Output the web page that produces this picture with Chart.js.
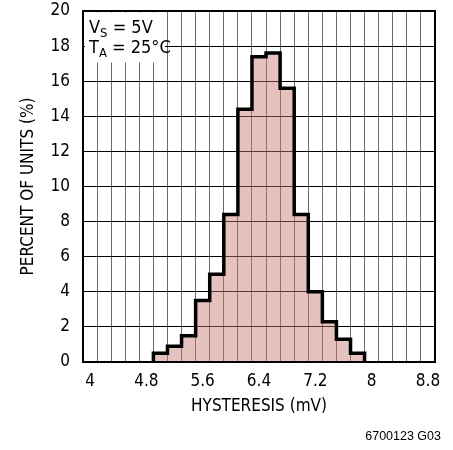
<!DOCTYPE html>
<html>
<head>
<meta charset="utf-8">
<script src="https://cdn.jsdelivr.net/npm/chart.js@4/dist/chart.umd.min.js"></script>
<style>
  html, body { margin: 0; padding: 0; background: #fff; }
  #wrap { width: 453px; height: 450px; position: relative; }
</style>
</head>
<body>
<div id="wrap"><canvas id="chart" width="453" height="450"></canvas></div>
<script>
// histogram bins (mV) and percent of units per bin
const binCenters = [5.0, 5.2, 5.4, 5.6, 5.8, 6.0, 6.2, 6.4, 6.6, 6.8, 7.0, 7.2, 7.4, 7.6, 7.8];
const percentUnits = [0.5, 0.9, 1.5, 3.5, 5.0, 8.4, 14.4, 17.4, 17.6, 15.6, 8.4, 4.0, 2.3, 1.3, 0.5];
const binWidth = 0.2;

const xTickLabels = ["4", "4.8", "5.6", "6.4", "7.2", "8", "8.8"];
const xMin = 3.9, xMax = 8.9;
const yMin = 0, yMax = 20, yStep = 2;

const FONT = '"Liberation Sans Narrow", "DejaVu Sans Condensed", "Liberation Sans", sans-serif';

const r2 = v => Math.round(v * 100) / 100;
const labelValues = xTickLabels.map(parseFloat);
const isLabelTick = v => labelValues.some(l => Math.abs(l - v) < 1e-6);

// all x ticks: gridlines every bin edge, labels at bin centers
const gridValues = [];
for (let v = xMin; v <= xMax + 1e-6; v += binWidth) gridValues.push(r2(v));
const xTickValues = gridValues.concat(labelValues).sort((a, b) => a - b);

// envelope of the histogram (stepped outline, filled down to 0)
const outline = [{ x: r2(binCenters[0] - binWidth / 2), y: 0 }];
binCenters.forEach((c, i) => outline.push({ x: r2(c - binWidth / 2), y: percentUnits[i] }));
outline.push({ x: r2(binCenters[binCenters.length - 1] + binWidth / 2), y: 0 });

const framePlugin = {
  id: "frame",
  afterDraw(chart) {
    const { ctx, chartArea: a } = chart;
    ctx.save();
    ctx.strokeStyle = "#000";
    ctx.lineWidth = 2;
    ctx.strokeRect(a.left, a.top, a.right - a.left, a.bottom - a.top);

    // condition box
    ctx.fillStyle = "#fff";
    ctx.fillRect(a.left + 2, a.top + 1.5, 80, 50);
    ctx.fillStyle = "#000";
    ctx.textBaseline = "alphabetic";
    const big = "18px " + FONT, small = "13px " + FONT;
    function sub(x, y, main, s, rest) {
      ctx.font = big; ctx.fillText(main, x, y); x += ctx.measureText(main).width;
      ctx.font = small; ctx.fillText(s, x, y + 4); x += ctx.measureText(s).width;
      ctx.font = big; ctx.fillText(rest, x, y);
    }
    sub(a.left + 6, a.top + 22, "V", "S", " = 5V");
    sub(a.left + 6, a.top + 42, "T", "A", " = 25°C");

    ctx.font = '12.5px "Liberation Sans", Arial, sans-serif';
    ctx.textAlign = "right";
    ctx.fillText("6700123 G03", 441, 440);
    ctx.restore();
  }
};

new Chart(document.getElementById("chart"), {
  type: "line",
  data: {
    datasets: [
      {
        data: outline,
        stepped: "before",
        borderColor: "#000",
        borderWidth: 3.5,
        borderJoinStyle: "miter",
        pointRadius: 0,
        fill: "origin",
        backgroundColor: "rgba(200,120,110,0.45)",
        clip: 4
      }
    ]
  },
  options: {
    responsive: false,
    animation: false,
    layout: { padding: { left: 0, right: 18, top: 11, bottom: 28 } },
    plugins: { legend: { display: false }, tooltip: { enabled: false } },
    scales: {
      x: {
        type: "linear",
        min: xMin,
        max: xMax,
        offset: false,
        afterBuildTicks: s => { s.ticks = xTickValues.map(v => ({ value: v })); },
        afterFit: s => { s.height = 60; s.paddingLeft = 0; s.paddingRight = 0; },
        border: { display: false },
        grid: {
          drawTicks: false,
          lineWidth: 1,
          color: c => (c.tick && isLabelTick(c.tick.value)) ? "rgba(0,0,0,0)" : "#6a6a6a"
        },
        ticks: {
          autoSkip: false,
          maxRotation: 0,
          padding: 9,
          color: "#000",
          font: { family: FONT, size: 17 },
          callback: v => isLabelTick(v) ? xTickLabels[labelValues.findIndex(l => Math.abs(l - v) < 1e-6)] : ""
        },
        title: {
          display: true,
          text: "HYSTERESIS (mV)",
          color: "#000",
          font: { family: FONT, size: 17 },
          padding: { top: 0, bottom: 5 }
        }
      },
      y: {
        min: yMin,
        max: yMax,
        afterFit: s => { s.width = 83; s.paddingTop = 0; s.paddingBottom = 0; },
        border: { display: false },
        grid: { drawTicks: false, color: "#000", lineWidth: 1 },
        ticks: {
          stepSize: yStep,
          padding: 13,
          color: "#000",
          font: { family: FONT, size: 17 }
        },
        title: {
          display: true,
          text: "PERCENT OF UNITS (%)",
          color: "#000",
          font: { family: FONT, size: 17 },
          padding: { top: 18, bottom: 0 }
        }
      }
    }
  },
  plugins: [framePlugin]
});
</script>
</body>
</html>
